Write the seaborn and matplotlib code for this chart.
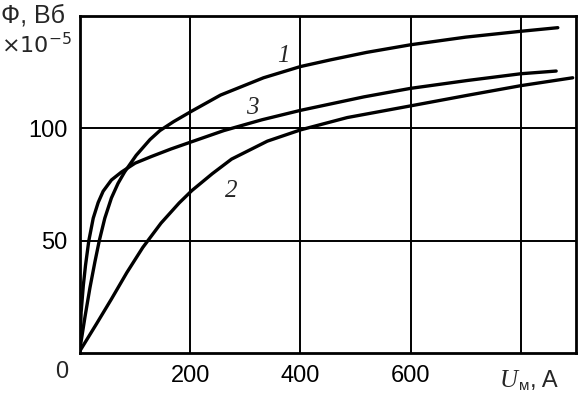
import matplotlib
matplotlib.use("Agg")
import matplotlib.pyplot as plt
import pandas as pd
import seaborn as sns

# curve 1
u1 = [0, 9, 18, 27, 35, 45, 57, 69, 81, 102, 127, 145, 170, 203, 255, 333,
      400, 455, 520, 600, 700, 800, 867]
f1 = [2, 16, 29, 40.5, 50, 60, 69, 75.5, 80.6, 88, 95, 99, 103, 107.7, 114.8, 122.5,
      127.5, 130.5, 133.8, 137.2, 140.6, 143.2, 144.8]
# curve 2
u2 = [0, 30, 57, 85, 114, 147, 180, 203, 240, 275, 340, 400, 485, 600, 703, 800, 894]
f2 = [1, 13, 24, 35.8, 47, 57.8, 66.8, 72.3, 79.8, 86.3, 94.3, 99.3, 104.8, 110,
      114.7, 119, 122.5]
# curve 3
u3 = [0, 2, 6, 10, 16, 24, 33, 42, 57, 75, 100, 130, 165, 200, 261, 330, 400,
      515, 600, 703, 800, 864]
f3 = [3, 18, 30, 39, 50, 60, 67, 72, 77, 80.5, 84.5, 87.5, 90.8, 93.8, 99, 103.8,
      108, 114, 117.8, 121.3, 124.3, 125.5]

labels = ["1", "2", "3"]
label_pos = [(369, 132), (274, 72), (312, 109)]

xticks = [200, 400, 600]
yticks = [50, 100]

df = pd.concat([
    pd.DataFrame({"U": u1, "F": f1, "curve": "1"}),
    pd.DataFrame({"U": u2, "F": f2, "curve": "2"}),
    pd.DataFrame({"U": u3, "F": f3, "curve": "3"}),
])

sns.set_style("white")
plt.rcParams["font.family"] = ["Liberation Sans", "DejaVu Sans"]

fig = plt.figure(figsize=(5.78, 3.99), dpi=100)
ax = fig.add_axes([80 / 578, 46 / 399, 496 / 578, 337 / 399])

sns.lineplot(data=df, x="U", y="F", units="curve", estimator=None, sort=False,
             color="black", lw=2.4, legend=False, ax=ax)

ax.set_xlim(0, 900)
ax.set_ylim(0, 150)
for x in [200, 400, 600, 800]:
    ax.axvline(x, color="black", lw=1.4, zorder=0)
for y in yticks:
    ax.axhline(y, color="black", lw=1.4, zorder=0)
for s in ax.spines.values():
    s.set_color("black")
    s.set_linewidth(2)

ax.set_xticks(xticks)
ax.set_xticklabels([str(v) for v in xticks])
ax.set_yticks(yticks)
ax.set_yticklabels([str(v) for v in yticks])
ax.tick_params(length=0, labelsize=17, colors="black", pad=9)
ax.set_xlabel("")
ax.set_ylabel("")

for lab, (x, y) in zip(labels, label_pos):
    ax.text(x, y, lab, fontsize=18, style="italic", family="Liberation Serif",
            ha="center", va="center")

fig.text(62 / 578, 1 - 372 / 399, "0", fontsize=17, ha="center", va="center")
fig.text(1 / 578, 1 - 15 / 399, "Ф, Вб", fontsize=18, ha="left", va="center")
fig.text(1 / 578, 1 - 46 / 399, r"$\times10^{-5}$", fontsize=16, ha="left", va="center")
fig.text(500 / 578, 1 - 381 / 399, "U", fontsize=18, style="italic",
         family="Liberation Serif", ha="left", va="center")
fig.text(519 / 578, 1 - 386 / 399, "м", fontsize=11, ha="left", va="center")
fig.text(530 / 578, 1 - 381 / 399, ", A", fontsize=17, ha="left", va="center")

fig.savefig("out.png", dpi=100)
